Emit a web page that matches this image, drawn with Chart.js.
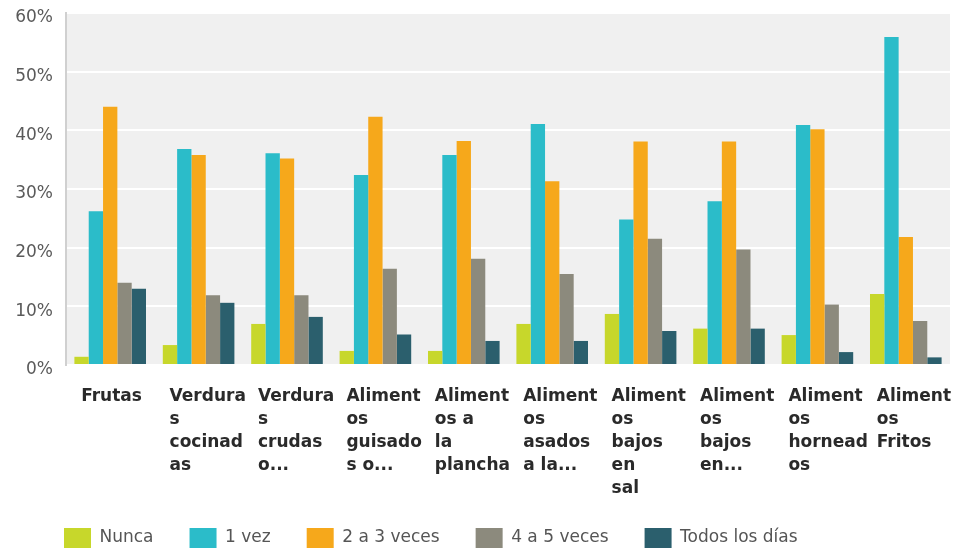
<!DOCTYPE html>
<html>
<head>
<meta charset="utf-8">
<script src="https://cdn.jsdelivr.net/npm/chart.js@4/dist/chart.umd.min.js"></script>
<style>
html,body{margin:0;padding:0;background:#fff;}
#wrap{width:955px;height:553px;}
</style>
</head>
<body>
<div id="wrap"><canvas id="c" width="955" height="553"></canvas></div>
<script>
const categories = [
  ["Frutas"],
  ["Verdura","s","cocinad","as"],
  ["Verdura","s","crudas","o..."],
  ["Aliment","os","guisado","s o..."],
  ["Aliment","os a","la","plancha"],
  ["Aliment","os","asados","a la..."],
  ["Aliment","os","bajos","en","sal"],
  ["Aliment","os","bajos","en..."],
  ["Aliment","os","hornead","os"],
  ["Aliment","os","Fritos"]
];
const seriesNames = ["Nunca","1 vez","2 a 3 veces","4 a 5 veces","Todos los días"];
const nunca      = [1.4, 3.4, 7.0, 2.4, 2.4, 7.0, 8.7, 6.2, 5.1, 12.1];
const unaVez     = [26.2, 36.8, 36.1, 32.4, 35.8, 41.1, 24.8, 27.9, 40.9, 55.9];
const dosATres   = [44.0, 35.8, 35.2, 42.3, 38.2, 31.3, 38.1, 38.1, 40.2, 21.8];
const cuatroACinco = [14.0, 11.9, 11.9, 16.4, 18.1, 15.5, 21.5, 19.7, 10.3, 7.5];
const todosLosDias = [13.0, 10.6, 8.2, 5.2, 4.1, 4.1, 5.8, 6.2, 2.2, 1.3];
const yTicks = [0, 10, 20, 30, 40, 50, 60];

const colors = ["#c7d72b", "#2bbcc9", "#f6a81b", "#8c8a7d", "#2b5f6d"];
const seriesValues = [nunca, unaVez, dosATres, cuatroACinco, todosLosDias];

const LEGEND_H = 40;

const bgPlugin = {
  id: 'plotBg',
  beforeLayout(chart) {
    const lg = chart.legend;
    if (lg && !lg._patchedFit) {
      const orig = lg.fit.bind(lg);
      lg.fit = function () { orig(); this.height = LEGEND_H; };
      lg._patchedFit = true;
    }
  },
  beforeDraw(chart) {
    const {ctx, chartArea: a} = chart;
    ctx.save();
    ctx.fillStyle = '#f0f0f0';
    ctx.fillRect(a.left, a.top, a.right - a.left, a.bottom - a.top);
    ctx.restore();
  },
  afterLayout(chart) {
    const lg = chart.legend;
    if (lg) {
      const p = lg.options.labels.padding;
      const w = lg.right - lg.left;
      lg.left = 64 - p;
      lg.right = lg.left + w;
      lg.top = 538 - 10 - p;
      lg.bottom = lg.top + LEGEND_H + 2 * p;
    }
  }
};

new Chart(document.getElementById('c'), {
  type: 'bar',
  data: {
    labels: categories,
    datasets: seriesNames.map((n, i) => ({
      label: n,
      data: seriesValues[i],
      backgroundColor: colors[i],
      borderWidth: 0,
      categoryPercentage: 0.81,
      barPercentage: 1.0
    }))
  },
  options: {
    responsive: false,
    animation: false,
    layout: {padding: {left: 0, right: 5, top: 13, bottom: 0}},
    plugins: {
      tooltip: {enabled: false},
      legend: {
        position: 'bottom',
        align: 'start',
        labels: {
          boxWidth: 27,
          boxHeight: 20,
          padding: 36,
          color: '#555',
          font: {family: 'DejaVu Sans', size: 17}
        }
      }
    },
    scales: {
      x: {
        grid: {display: false, drawTicks: false},
        border: {display: false},
        ticks: {
          autoSkip: false,
          maxRotation: 0,
          minRotation: 0,
          align: 'start',
          labelOffset: -29,
          padding: 20,
          color: '#2a2a2a',
          font: {family: 'DejaVu Sans', size: 17, weight: 'bold', lineHeight: 1.35}
        },
        afterFit(scale) {
          scale.height = 553 - LEGEND_H - 365;
          scale.paddingLeft = 0; scale.paddingRight = 0;
        }
      },
      y: {
        min: 0,
        max: 60,
        afterBuildTicks(scale) { scale.ticks = yTicks.map(v => ({value: v})); },
        grid: {color: '#ffffff', lineWidth: 2, drawTicks: false},
        border: {display: true, color: '#d0d0d0', width: 2},
        ticks: {
          padding: 13,
          color: '#5a5a5a',
          labelOffset: 5,
          font: {family: 'DejaVu Sans', size: 17},
          callback: v => v + '%'
        },
        afterFit(scale) {
          scale.width = 66;
          scale.paddingTop = 0; scale.paddingBottom = 0;
        }
      }
    }
  },
  plugins: [bgPlugin]
});
</script>
</body>
</html>
